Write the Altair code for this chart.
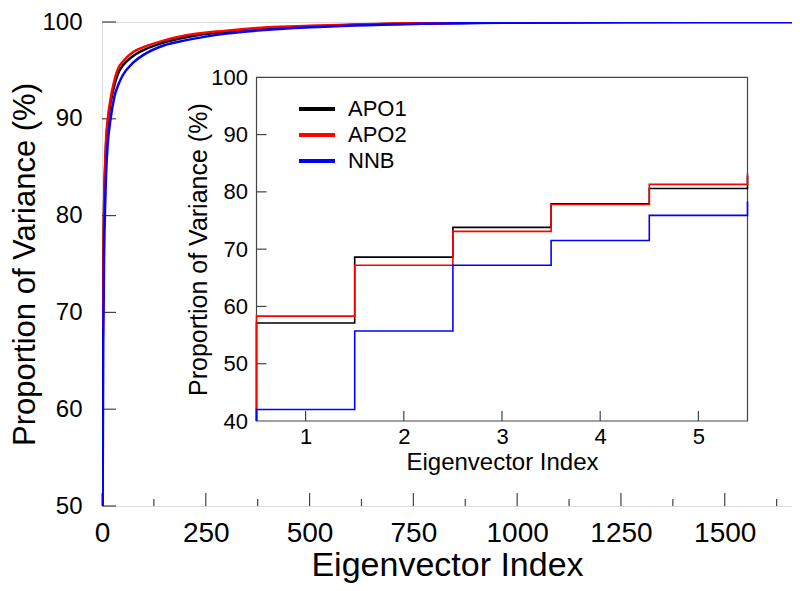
import altair as alt
import pandas as pd

# ---------------- data ----------------
series_names = ["APO1", "APO2", "NNB"]
series_colors = ["#000000", "#ff0000", "#0000ff"]

# main panel: cumulative proportion of variance vs eigenvector index
main_index = [0, 1, 2, 3, 4, 5, 6, 8, 10, 14, 20, 30, 40, 50, 75, 100, 150,
              200, 300, 400, 500, 750, 1000, 1250, 1664]
apo1_main = [0, 57.1, 68.6, 73.8, 77.9, 80.6, 82.8, 85.5, 87.5, 89.6, 91.5, 93.5,
             94.8, 95.5, 96.5, 97.1, 97.9, 98.4, 99.0, 99.35, 99.55, 99.85,
             99.95, 99.99, 100]
apo2_main = [0, 58.3, 67.2, 73.1, 77.8, 81.3, 83.2, 86.0, 88.0, 90.0, 91.9, 94.0,
             95.3, 95.9, 96.9, 97.4, 98.1, 98.6, 99.1, 99.45, 99.6, 99.88,
             99.96, 99.99, 100]
nnb_main = [0, 42.0, 55.7, 67.2, 71.5, 75.9, 78.3, 81.8, 84.5, 87.5, 89.8, 92.3,
            93.6, 94.5, 95.8, 96.6, 97.6, 98.1, 98.8, 99.2, 99.45, 99.8,
            99.93, 99.98, 100]

# inset: first eigenvectors (step plot)
inset_index = [0, 1, 2, 3, 4, 5, 6]
apo1_inset = [0, 57.1, 68.6, 73.8, 77.9, 80.6, 82.8]
apo2_inset = [0, 58.3, 67.2, 73.1, 77.8, 81.3, 83.2]
nnb_inset = [0, 42.0, 55.7, 67.2, 71.5, 75.9, 78.3]

main_x_major = [0, 250, 500, 750, 1000, 1250, 1500]
main_x_minor = [125, 375, 625, 875, 1125, 1375, 1625]
main_y_ticks = [50, 60, 70, 80, 90, 100]
inset_x_ticks = [1, 2, 3, 4, 5]
inset_y_ticks = [40, 50, 60, 70, 80, 90, 100]

# ---------------- layout constants ----------------
W, H = 690, 484
FONT = "Liberation Sans"
FRAME = "#444444"

# inset placement (pixels inside the main plot area)
IX0, IX1 = 154.5, 645.5
IY_BOT, IY_TOP = 399, 55.3

def long_df(idx, vals):
    rows = []
    for k, (name, v) in enumerate(zip(series_names, vals)):
        for i, y in zip(idx, v):
            rows.append({"idx": i, "pct": y, "series": name, "ord": k})
    return pd.DataFrame(rows)

main_df = long_df(main_index, [apo1_main, apo2_main, nnb_main])
inset_df = long_df(inset_index, [apo1_inset, apo2_inset, nnb_inset])

color = alt.Color(
    "series:N",
    scale=alt.Scale(domain=series_names, range=series_colors),
    legend=alt.Legend(
        title=None, orient="none", legendX=204, legendY=76,
        symbolType="M-2,0H2", symbolSize=324, symbolStrokeWidth=4,
        labelFont=FONT, labelFontSize=22, labelColor="#000",
        labelOffset=20, rowPadding=4, padding=0,
    ),
)

# ---------------- main panel ----------------
mx_scale = alt.Scale(domain=[0, 1662], nice=False, zero=False)
my_scale = alt.Scale(domain=[50, 100], nice=False, zero=False)
mx_axis = alt.Axis(
    title="Eigenvector Index", values=main_x_major, format="d", ticks=False,
    tickSize=0, domain=False, grid=False, labelFont=FONT, labelFontSize=28,
    labelColor="#000", labelPadding=13, titleFont=FONT, titleFontSize=34,
    titleFontWeight="normal", titleColor="#000", titlePadding=1,
    labelFlush=False,
)
my_axis = alt.Axis(
    title="Proportion of Variance (%)", values=main_y_ticks, ticks=False,
    tickSize=0, domain=False, grid=False, labelFont=FONT, labelFontSize=24,
    labelColor="#000", labelPadding=20, titleFont=FONT, titleFontSize=31,
    titleFontWeight="normal", titleColor="#000", titlePadding=0,
)

main_lines = alt.Chart(main_df).mark_line(
    strokeWidth=2.5, interpolate="monotone", clip=True
).encode(
    x=alt.X("idx:Q", scale=mx_scale, axis=mx_axis),
    y=alt.Y("pct:Q", scale=my_scale, axis=my_axis),
    color=color,
    order="ord:Q",
    detail="series:N",
)

def xtick_layer(vals, y_from, y_to, xs, ax, stroke=FRAME):
    d = pd.DataFrame({"idx": vals})
    return alt.Chart(d).mark_rule(color=stroke, strokeWidth=1.2).encode(
        x=alt.X("idx:Q", scale=xs, axis=ax),
        y=alt.value(y_from), y2=alt.value(y_to),
    )

def ytick_layer(vals, x_from, x_to, ys, ax, stroke=FRAME):
    d = pd.DataFrame({"pct": vals})
    return alt.Chart(d).mark_rule(color=stroke, strokeWidth=1.2).encode(
        y=alt.Y("pct:Q", scale=ys, axis=ax),
        x=alt.value(x_from), x2=alt.value(x_to),
    )

main_xmaj = xtick_layer(main_x_major, H, H - 13, mx_scale, mx_axis)
main_xmin = xtick_layer(main_x_minor, H, H - 7, mx_scale, mx_axis)
main_yt = ytick_layer(main_y_ticks, 0, 14, my_scale, my_axis)

main = alt.layer(main_xmaj, main_xmin, main_yt, main_lines)

# ---------------- inset panel ----------------
ix_scale = alt.Scale(domain=[0.5, 5.5], range=[IX0, IX1], nice=False,
                     zero=False, clamp=True)
iy_scale = alt.Scale(domain=[40, 100], range=[IY_BOT, IY_TOP], nice=False,
                     zero=False, clamp=True)
ix_axis = alt.Axis(
    title="Eigenvector Index", values=inset_x_ticks, ticks=False, tickSize=0,
    domain=False, grid=False, orient="bottom", offset=-(H - IY_BOT),
    labelFont=FONT, labelFontSize=22, labelColor="#000", labelPadding=5,
    titleFont=FONT, titleFontSize=24, titleFontWeight="normal",
    titleColor="#000", titlePadding=3, labelFlush=False,
)
iy_axis = alt.Axis(
    title="Proportion of Variance (%)", values=inset_y_ticks, ticks=False,
    tickSize=0, domain=False, grid=False, orient="left", offset=-IX0,
    labelFont=FONT, labelFontSize=22, labelColor="#000", labelPadding=9,
    titleFont=FONT, titleFontSize=25, titleFontWeight="normal",
    titleColor="#000", titlePadding=-1,
)

frame_df = pd.DataFrame({"x0": [0.5], "x1": [5.5], "y0": [40], "y1": [100]})
inset_bg = alt.Chart(frame_df).mark_rect(
    fill="white", stroke=FRAME, strokeWidth=1.2
).encode(
    x=alt.X("x0:Q", scale=ix_scale, axis=ix_axis), x2="x1:Q",
    y=alt.Y("y0:Q", scale=iy_scale, axis=iy_axis), y2="y1:Q",
)

# step boundaries lie half-way between eigenvector indices
inset_lines = alt.Chart(inset_df).transform_calculate(
    edge="datum.idx - 0.5"
).mark_line(
    strokeWidth=1.6, interpolate="step-after"
).encode(
    x=alt.X("edge:Q", scale=ix_scale, axis=ix_axis),
    y=alt.Y("pct:Q", scale=iy_scale, axis=iy_axis),
    color=color,
    order="idx:Q",
    detail="series:N",
)

inset_xt = xtick_layer(inset_x_ticks, IY_BOT, IY_BOT - 10, ix_scale, ix_axis)
inset_yt = ytick_layer(inset_y_ticks[1:-1], IX0, IX0 + 10, iy_scale, iy_axis)

inset = alt.layer(inset_bg, inset_xt, inset_yt, inset_lines)

chart = alt.layer(main, inset).resolve_scale(
    x="independent", y="independent"
).properties(
    width=W, height=H,
    autosize=alt.AutoSizeParams(type="none"),
    padding={"left": 94, "top": 14, "right": 0, "bottom": 77},
).configure_view(
    stroke=FRAME, strokeWidth=1.5
).configure(
    background="white"
)

chart.save("out.html", embed_options={"renderer": "svg", "actions": False})
